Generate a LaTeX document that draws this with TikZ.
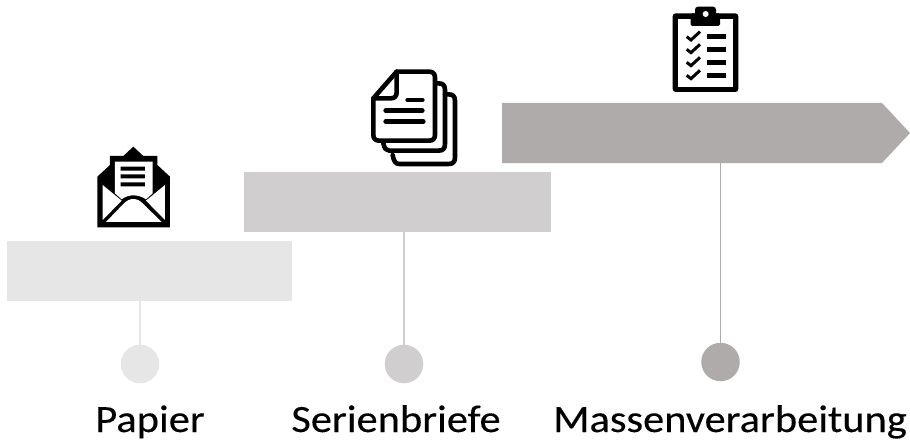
\documentclass[tikz,border=0pt]{standalone}
\usepackage{fontspec}
\setmainfont[FakeStretch=1.1,FakeBold=0.25]{Carlito}
\usetikzlibrary{calc}
\definecolor{cA}{HTML}{E7E6E6}
\definecolor{cB}{HTML}{D0CECE}
\definecolor{cC}{HTML}{AFABAB}
\tikzset{
  barbox/.style={fill=#1,draw=none,inner sep=0pt,outer sep=0pt,minimum height=60pt},
  dotn/.style={circle,fill=#1,draw=none,inner sep=0pt,outer sep=0pt,minimum size=38.5pt},
  stem/.style={draw=#1,line width=1.6pt},
  lab/.style={font=\fontsize{38.6}{42}\selectfont,inner sep=0pt,anchor=base},
  ink/.style={line width=4.6pt,line join=round,line cap=round,draw=black},
}
\begin{document}
\begin{tikzpicture}[x=1pt,y=-1pt]
\useasboundingbox (0,0) rectangle (910,441);
% bars
\node[barbox=cA,minimum width=285pt] (barA) at (149.5,271) {};
\node[barbox=cB,minimum width=307pt] (barB) at (397.5,202) {};
\fill[cC] (502,103) -- (882,103) -- (910,133) -- (882,163) -- (502,163) -- cycle;
\coordinate (barC) at (720.5,163);
% dots
\node[dotn=cA] (dotA) at (140,364) {};
\node[dotn=cB] (dotB) at (404,364) {};
\node[dotn=cC] (dotC) at (720.5,362) {};
% stems
\draw[stem=cA] (barA.south -| dotA.north) -- (dotA.north);
\draw[stem=cB] (barB.south -| dotB.north) -- (dotB.north);
\draw[stem=cC] (barC) -- (dotC.north);
% labels
\node[lab] (labA) at (150,432) {Papier};
\node[lab] (labB) at (396,432) {Serienbriefe};
\node[lab] (labC) at (730,432) {Massenverarbeitung};
% envelope icon
\begin{scope}[shift={(80,130)},x=0.3333pt,y=-0.3333pt]
  \fill[black] (160,50) -- (190,78) -- (232,78) -- (232,105) -- (270,140) -- (270,292) -- (52,292) -- (52,140) -- (90,105) -- (90,78) -- (130,78) -- cycle;
  \fill[white] (105,95) -- (218,95) -- (218,190) -- (198,208) .. controls (175,192) and (145,192) .. (125,208) -- (105,190) -- cycle;
  \fill[white] (68,165) -- (125,212) -- (68,270) -- cycle;
  \fill[white] (255,165) -- (198,212) -- (255,270) -- cycle;
  \fill[white] (78,276) -- (130,222) .. controls (148,202) and (172,202) .. (190,222) -- (245,276) -- cycle;
  \fill[black] (122,110) rectangle (195,122) (122,133) rectangle (195,145) (122,157) rectangle (195,169);
\end{scope}
% documents icon
\begin{scope}[shift={(355,60)},x=0.3333pt,y=-0.3333pt]
  \draw[ink] (125,35) -- (222,35) .. controls (234,35) and (240,41) .. (240,53) -- (240,224) .. controls (240,236) and (234,242) .. (222,242) -- (73,242) .. controls (61,242) and (55,236) .. (55,224) -- (55,115) -- cycle;
  \draw[ink] (125,35) -- (125,97) .. controls (125,109) and (119,115) .. (107,115) -- (55,115);
  \draw[ink] (158,120) -- (202,120) (92,152) -- (202,152) (92,185) -- (205,185);
  \draw[ink] (245,70) -- (250,70) .. controls (264,70) and (270,76) .. (270,90) -- (270,252) .. controls (270,266) and (264,272) .. (250,272) -- (103,272) .. controls (94,272) and (88,266) .. (85,250);
  \draw[ink] (270,103) -- (280,103) .. controls (294,103) and (300,109) .. (300,123) -- (300,292) .. controls (300,306) and (294,312) .. (280,312) -- (133,312) .. controls (122,312) and (116,304) .. (113,285);
\end{scope}
% clipboard icon
\begin{scope}[shift={(650,0)},x=0.3333pt,y=-0.3333pt]
  \fill[black,rounded corners=3pt] (68,40) rectangle (265,276);
  \fill[white] (85,58) rectangle (250,260);
  \fill[black,rounded corners=1.5pt] (122,40) rectangle (210,78);
  \fill[black,rounded corners=3pt] (135,20) rectangle (198,60);
  \fill[white] (167,42) circle (9);
  \foreach \yy in {110,148,187,226} {
    \draw[black,line width=3pt] (110,\yy) -- (123,\yy+10) -- (150,\yy-15);
    \fill[black] (172,\yy-8) rectangle (228,\yy+7);
  }
\end{scope}
\end{tikzpicture}
\end{document}
